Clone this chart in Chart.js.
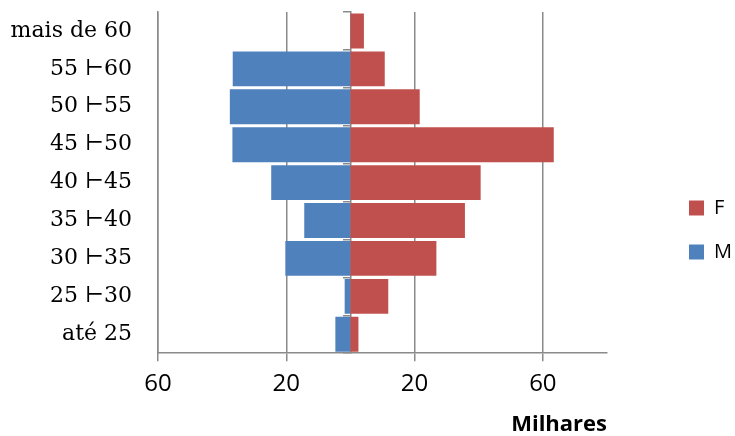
<!DOCTYPE html>
<html>
<head>
<meta charset="utf-8">
<script src="https://cdn.jsdelivr.net/npm/chart.js@4.4.1/dist/chart.umd.min.js"></script>
<style>
  html, body { margin: 0; padding: 0; background: #fff; }
  #wrap { width: 735px; height: 436px; }
</style>
</head>
<body>
<div id="wrap"><canvas id="pyramid"></canvas></div>
<script>
// Age groups, top to bottom (thousands of people)
const ageGroups = ['mais de 60', '55 ⊢60', '50 ⊢55', '45 ⊢50', '40 ⊢45', '35 ⊢40', '30 ⊢35', '25 ⊢30', 'até 25'];
const female = [4.2, 10.7, 21.6, 63.4, 40.6, 35.7, 26.8, 11.8, 2.5];
const male = [0, 36.7, 37.6, 36.8, 24.7, 14.4, 20.3, 1.8, 4.7];
const xTicks = [-60, -20, 20, 60];
const xMin = -60;
const xMax = 80;

const gridGray = '#8a8a8a';

// Put the legend where the original sits (right side, near the middle)
const legendNudge = {
    id: 'legendNudge',
    afterLayout(chart) {
        const lg = chart.legend;
        const w = lg.right - lg.left;
        lg.left = 665;
        lg.right = 665 + w;
        lg.top = 0;
        lg.bottom = 460;
    }
};

new Chart(document.getElementById('pyramid'), {
    type: 'bar',
    data: {
        labels: ageGroups,
        datasets: [{
            label: 'F',
            data: female,
            backgroundColor: '#C0504D',
            borderWidth: 0,
            barPercentage: 0.92,
            categoryPercentage: 1
        }, {
            label: 'M',
            data: male.map(v => -v),
            backgroundColor: '#4F81BD',
            borderWidth: 0,
            barPercentage: 0.92,
            categoryPercentage: 1
        }]
    },
    options: {
        indexAxis: 'y',
        responsive: true,
        maintainAspectRatio: false,
        animation: false,
        layout: { padding: { top: 12, right: 51, left: 0, bottom: 0 } },
        plugins: {
            tooltip: { enabled: false },
            legend: {
                position: 'right',
                labels: {
                    boxWidth: 15,
                    boxHeight: 15,
                    padding: 24,
                    color: '#000',
                    font: { family: 'Open Sans', size: 20 }
                }
            }
        },
        scales: {
            x: {
                type: 'linear',
                stacked: true,
                min: xMin,
                max: xMax,
                afterBuildTicks: scale => {
                    scale.ticks = xTicks.map(v => ({ value: v }));
                },
                grid: { color: gridGray, lineWidth: 1.5, tickLength: 8 },
                border: { color: gridGray, width: 1.5 },
                ticks: {
                    color: '#000',
                    padding: 9,
                    maxRotation: 0,
                    font: { family: 'Open Sans', size: 24 },
                    callback: v => Math.abs(v)
                },
                title: {
                    display: true,
                    text: 'Milhares',
                    align: 'end',
                    color: '#000',
                    font: { family: 'Open Sans', size: 22, weight: 'bold', lineHeight: 1 },
                    padding: { top: 6, bottom: 0 }
                }
            },
            y: {
                stacked: true,
                offset: true,
                afterFit: scale => {
                    scale.width = 158;
                    scale.paddingTop = 0;
                    scale.paddingBottom = 0;
                },
                grid: { display: false, drawTicks: false },
                border: { display: true, color: gridGray, width: 1.5 },
                ticks: {
                    color: '#000',
                    padding: 26,
                    autoSkip: false,
                    font: { family: 'DejaVu Serif', size: 22 }
                }
            },
            // zero line with small category ticks, drawn over the bars
            y2: {
                axis: 'y',
                type: 'category',
                position: { x: 0 },
                offset: true,
                z: 1,
                grid: { offset: true, drawOnChartArea: false, tickLength: 7, color: gridGray, lineWidth: 1.5 },
                border: { color: gridGray, width: 1.5 },
                ticks: { display: false }
            }
        }
    },
    plugins: [legendNudge]
});
</script>
</body>
</html>
